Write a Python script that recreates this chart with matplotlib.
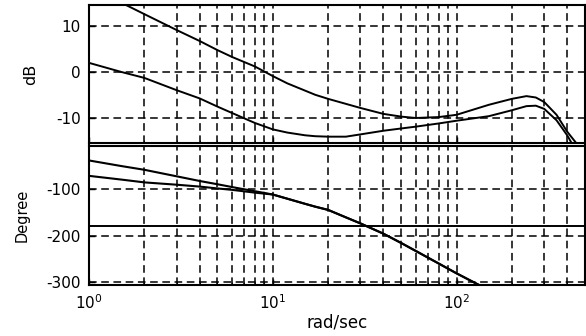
import numpy as np
import matplotlib
matplotlib.use("Agg")
import matplotlib.pyplot as plt
from matplotlib.ticker import LogLocator, NullFormatter, FixedLocator

plt.rcParams['font.family'] = ['DejaVu Sans']
plt.rcParams['axes.unicode_minus'] = False
plt.rcParams['mathtext.fontset'] = 'dejavusans'

# frequency points (rad/sec)
w = [1, 1.5, 2, 3, 4, 5, 6, 8, 10, 12, 15, 17, 20, 25, 30, 40, 50, 60, 80, 100,
     150, 200, 240, 270, 300, 350, 400, 450, 500]

# magnitude (dB), two responses
mag1 = [18.5, 15.2, 12.7, 9.2, 6.8, 4.8, 3.3, 1.2, -0.9, -2.5, -4.1, -5.0, -5.9,
        -7.0, -7.9, -9.2, -9.8, -10.1, -9.9, -9.4, -7.2, -5.9, -5.3, -5.6,
        -6.6, -9.4, -13.1, -15.7, -18.0]
mag2 = [2.0, 0.0, -1.3, -4.0, -5.8, -7.6, -9.0, -11.2, -12.6, -13.3, -13.9,
        -14.1, -14.2, -14.2, -13.7, -12.9, -12.4, -12.0, -11.3, -10.7, -9.7,
        -8.4, -7.5, -7.4, -8.1, -10.6, -13.9, -17.5, -20.5]

# phase (degree)
ph1 = [-39, -51, -59, -73, -83, -90, -96, -105, -112, -121, -132, -138, -145,
       -161, -174, -196, -216, -233, -260, -281, -317, -342, -358, -368, -378,
       -392, -404, -415, -425]
ph2 = [-72, -80, -86, -91, -95, -99, -102, -108, -112, -121, -132, -138, -145,
       -161, -174, -196, -216, -233, -260, -281, -317, -342, -358, -368, -378,
       -392, -404, -415, -425]

mag_ticks = [-10, 0, 10]
ph_ticks = [-300, -200, -100]
ph_ref = -180

W, H = 586, 336
fig = plt.figure(figsize=(W / 100, H / 100), dpi=100)
ax1 = fig.add_axes([89 / W, 1 - 143.5 / H, (585 - 89) / W, (143.5 - 5) / H])
ax2 = fig.add_axes([89 / W, 1 - 285 / H, (585 - 89) / W, (285 - 146) / H])

gridstyle = dict(color='k', linestyle=(0, (5, 3)), linewidth=1.1)

for ax in (ax1, ax2):
    ax.set_xscale('log')
    ax.set_xlim(1, 500)
    ax.xaxis.set_major_locator(LogLocator(base=10))
    ax.xaxis.set_minor_locator(LogLocator(base=10, subs=np.arange(2, 10)))
    ax.xaxis.set_minor_formatter(NullFormatter())
    ax.grid(True, which='both', axis='x', **gridstyle)
    ax.grid(True, which='major', axis='y', **gridstyle)
    ax.set_axisbelow(True)
    ax.tick_params(direction='in', length=4, width=1, labelsize=11, pad=6)
    ax.tick_params(which='minor', direction='in', length=2)
    for s in ax.spines.values():
        s.set_linewidth(1.5)
        s.set_color('k')

ax1.plot(w, mag1, color='k', lw=1.4)
ax1.plot(w, mag2, color='k', lw=1.4)
ax1.set_ylim(-15.7, 14.7)
ax1.yaxis.set_major_locator(FixedLocator(mag_ticks))
ax1.tick_params(labelbottom=False)
ax1.set_ylabel('dB', fontsize=11.5, labelpad=13)

ax2.plot(w, ph1, color='k', lw=1.5)
ax2.plot(w, ph2, color='k', lw=1.5)
ax2.axhline(ph_ref, color='k', lw=1.4)
ax2.set_ylim(-306, -8)
ax2.yaxis.set_major_locator(FixedLocator(ph_ticks))
ax2.set_ylabel('Degree', fontsize=10.5, labelpad=12)
ax2.set_xlabel('rad/sec', fontsize=12, labelpad=1)

fig.savefig('out.png', dpi=100)
